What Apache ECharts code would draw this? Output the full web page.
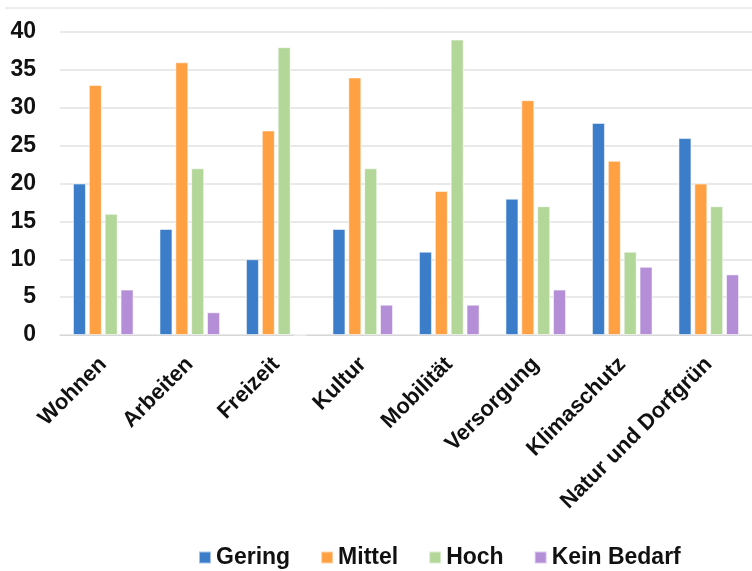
<!DOCTYPE html>
<html>
<head>
<meta charset="utf-8">
<script src="https://cdn.jsdelivr.net/npm/echarts@6/dist/echarts.min.js"></script>
<style>
    html, body { margin: 0; padding: 0; background: #fff; }
    #main { width: 752px; height: 571px; }
</style>
</head>
<body>
<div id="main"></div>
<script>
const categories = ['Wohnen', 'Arbeiten', 'Freizeit', 'Kultur', 'Mobilität', 'Versorgung', 'Klimaschutz', 'Natur und Dorfgrün'];
const gering = [20, 14, 10, 14, 11, 18, 28, 26];
const mittel = [33, 36, 27, 34, 19, 31, 23, 20];
const hoch = [16, 22, 38, 22, 39, 17, 11, 17];
const keinBedarf = [6, 3, 0, 4, 4, 6, 9, 8];
const yTicks = { min: 0, max: 40, interval: 5 };

const colorList = ['#3B7DC9', '#FFA043', '#B3D699', '#B48ED6'];
const font = '"Liberation Sans", Arial, sans-serif';

function makeSeries(name, data, i) {
    return {
        name: name,
        type: 'bar',
        data: data,
        barWidth: 13,
        barGap: '22%',
        itemStyle: {
            color: colorList[i],
            borderColor: 'rgba(255,255,255,0.55)',
            borderWidth: 1
        }
    };
}

const chart = echarts.init(document.getElementById('main'));
chart.setOption({
    animation: false,
    textStyle: { fontFamily: font },
    graphic: [{
        type: 'line',
        shape: { x1: 5, y1: 8, x2: 752, y2: 8 },
        style: { stroke: '#dcdcdc', lineWidth: 1 }
    }],
    grid: {
        left: 60,
        right: 0,
        top: 32,
        bottom: 236
    },
    legend: {
        top: 541,
        left: 193,
        itemWidth: 12,
        itemHeight: 12,
        itemGap: 30,
        icon: 'rect',
        textStyle: { fontSize: 23, fontWeight: 'bold', color: '#111', fontFamily: font }
    },
    xAxis: {
        type: 'category',
        data: categories,
        axisLine: { lineStyle: { color: '#d6d6d6' } },
        axisTick: { show: false },
        axisLabel: {
            interval: 0,
            rotate: 45,
            margin: 26,
            fontSize: 22,
            fontWeight: 'bold',
            color: '#111'
        }
    },
    yAxis: {
        type: 'value',
        min: yTicks.min,
        max: yTicks.max,
        interval: yTicks.interval,
        axisLine: { show: false },
        axisTick: { show: false },
        axisLabel: {
            fontSize: 23,
            fontWeight: 'bold',
            color: '#111',
            margin: 24
        },
        splitLine: { lineStyle: { color: '#e2e2e2', width: 1.5 } }
    },
    series: [
        makeSeries('Gering', gering, 0),
        makeSeries('Mittel', mittel, 1),
        makeSeries('Hoch', hoch, 2),
        makeSeries('Kein Bedarf', keinBedarf, 3)
    ]
});
</script>
</body>
</html>
